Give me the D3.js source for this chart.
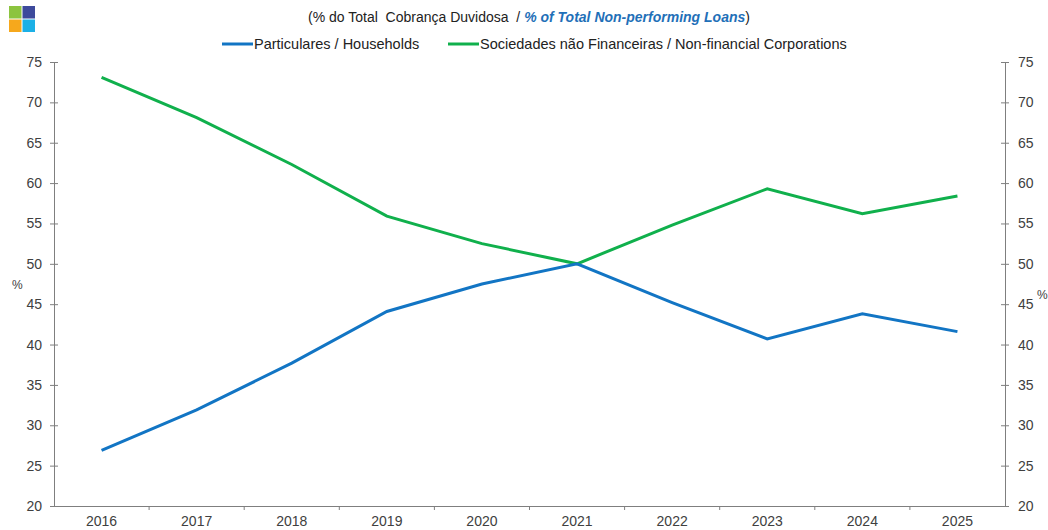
<!DOCTYPE html>
<html>
<head>
<meta charset="utf-8">
<script src="https://cdn.jsdelivr.net/npm/d3@7"></script>
<style>
  body { margin: 0; background: #fff; }
  svg text { font-family: "Liberation Sans", Arial, sans-serif; }
</style>
</head>
<body>
<div id="chart"></div>
<script>
const years = ["2016","2017","2018","2019","2020","2021","2022","2023","2024","2025"];
const households = [26.9, 31.9, 37.7, 44.1, 47.5, 50.0, 45.2, 40.7, 43.8, 41.6];
const corporations = [73.1, 68.1, 62.3, 55.9, 52.5, 50.0, 54.8, 59.3, 56.2, 58.4];
const yTicks = [20, 25, 30, 35, 40, 45, 50, 55, 60, 65, 70, 75];

const W = 1048, H = 530;
var margin = {top: 62, right: 43, bottom: 24, left: 54},
    width = W - margin.left - margin.right,
    height = H - margin.top - margin.bottom;

const axisColor = "#7f7f7f", textColor = "#404040";

var svg = d3.select("#chart").append("svg")
    .attr("width", W).attr("height", H);

// logo
const logo = [["#8cc43f",0,0],["#3d4a9c",1,0],["#f6a81c",0,1],["#1cb0e6",1,1]];
svg.append("g").attr("transform", "translate(9,6)")
  .selectAll("rect").data(logo).join("rect")
    .attr("x", d => d[1]*13.5).attr("y", d => d[2]*13.5)
    .attr("width", 12.5).attr("height", 12.5)
    .attr("fill", d => d[0]);

// title
var title = svg.append("text").attr("x", 529).attr("y", 22)
    .attr("text-anchor", "middle").attr("font-size", 14).attr("fill", "#222");
title.append("tspan").attr("xml:space", "preserve").text("(% do Total  Cobrança Duvidosa  / ");
title.append("tspan").attr("fill", "#1f70b8").attr("font-weight", "bold").attr("font-style", "italic")
    .text("% of Total Non-performing Loans");
title.append("tspan").text(")");

// legend
const legend = [
  {label: "Particulares / Households", color: "#1275c4", x: 222},
  {label: "Sociedades não Financeiras / Non-financial Corporations", color: "#10b04c", x: 448}
];
var lg = svg.append("g").selectAll("g").data(legend).join("g")
    .attr("transform", d => "translate(" + d.x + ",44)");
lg.append("line").attr("x1", 0).attr("x2", 31).attr("stroke", d => d.color).attr("stroke-width", 3);
lg.append("text").attr("x", 32).attr("y", 5).attr("font-size", 14.5).attr("fill", "#222").text(d => d.label);

var g = svg.append("g").attr("transform", "translate(" + margin.left + "," + margin.top + ")");

const x = d3.scaleBand().domain(years).range([0, width]);
const y = d3.scaleLinear().domain([20, 75]).range([height, 0]);

// x axis
var xAxis = g.append("g").attr("transform", "translate(0," + height + ")")
    .call(d3.axisBottom(x).tickSize(0).tickPadding(10));
xAxis.select(".domain").attr("stroke", axisColor);
xAxis.selectAll("text").attr("font-size", 14).attr("fill", textColor).attr("font-family", "Liberation Sans, Arial, sans-serif");
xAxis.selectAll(".sep").data(years.slice(1)).join("line").attr("class", "sep")
    .attr("x1", d => x(d)).attr("x2", d => x(d)).attr("y1", 0).attr("y2", 4)
    .attr("stroke", axisColor);

function styleY(sel) {
  sel.select(".domain").attr("stroke", axisColor);
  sel.selectAll(".tick line").attr("stroke", axisColor);
  sel.selectAll("text").attr("font-size", 14).attr("fill", textColor).attr("font-family", "Liberation Sans, Arial, sans-serif");
}

var yLeft = g.append("g").call(d3.axisLeft(y).tickValues(yTicks).tickSizeOuter(0).tickSizeInner(4).tickPadding(8));
yLeft.selectAll(".tick line").attr("x1", 4);
styleY(yLeft);

var yRight = g.append("g").attr("transform", "translate(" + width + ",0)")
    .call(d3.axisRight(y).tickValues(yTicks).tickSizeOuter(0).tickSizeInner(4).tickPadding(9));
yRight.selectAll(".tick line").attr("x1", -4);
styleY(yRight);

svg.append("text").attr("x", 12).attr("y", 289).attr("font-size", 12).attr("fill", textColor).text("%");
svg.append("text").attr("x", 1037).attr("y", 299).attr("font-size", 12).attr("fill", textColor).text("%");

// lines
var line = d3.line()
    .x((d, i) => x(years[i]) + x.bandwidth() / 2)
    .y(d => y(d));

g.append("path").datum(corporations)
    .attr("fill", "none").attr("stroke", "#10b04c").attr("stroke-width", 3)
    .attr("d", line);
g.append("path").datum(households)
    .attr("fill", "none").attr("stroke", "#1275c4").attr("stroke-width", 3)
    .attr("d", line);
</script>
</body>
</html>
